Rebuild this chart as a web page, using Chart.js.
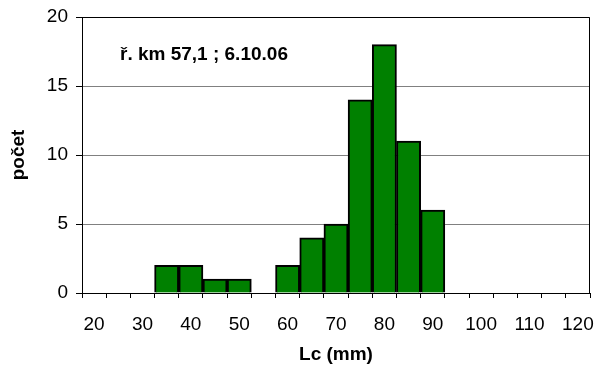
<!DOCTYPE html>
<html>
<head>
<meta charset="utf-8">
<script src="https://cdn.jsdelivr.net/npm/chart.js@4/dist/chart.umd.min.js"></script>
<style>
html,body{margin:0;padding:0;background:#fff;}
#wrap{width:597px;height:374px;position:relative;}
</style>
</head>
<body>
<div id="wrap"><canvas id="c" width="597" height="374"></canvas></div>
<script>
const categories = [20,25,30,35,40,45,50,55,60,65,70,75,80,85,90,95,100,105,110,115,120];
const counts =     [0, 0, 0, 2, 2, 1, 1, 0, 2, 4, 5, 14,18,11,6, 0, 0,  0,  0,  0,  0];
const yTicks = [0,5,10,15,20];
const annotationText = 'ř. km 57,1 ; 6.10.06';
const xTitle = 'Lc (mm)';
const yTitle = 'počet';

const FONT = "'Liberation Sans', Arial, sans-serif";

const annotationPlugin = {
  id: 'annot',
  afterDraw(chart) {
    const ctx = chart.ctx;
    const a = chart.chartArea;
    ctx.save();
    ctx.font = "bold 19px " + FONT;
    ctx.fillStyle = '#000';
    ctx.textBaseline = 'middle';
    ctx.textAlign = 'left';
    ctx.fillText(annotationText, a.left + 38, a.top + 38);
    ctx.strokeStyle = '#000';
    ctx.lineWidth = 1;
    ctx.beginPath();
    ctx.moveTo(a.left, a.top + 0.5);
    ctx.lineTo(a.right - 0.5, a.top + 0.5);
    ctx.lineTo(a.right - 0.5, a.bottom);
    ctx.stroke();
    ctx.restore();
  }
};

new Chart(document.getElementById('c'), {
  type: 'bar',
  data: {
    labels: categories,
    datasets: [{
      data: counts,
      backgroundColor: '#008000',
      borderColor: '#000',
      borderWidth: 2,
      borderSkipped: 'bottom',
      barPercentage: 1,
      categoryPercentage: 1
    }]
  },
  options: {
    responsive: false,
    animation: false,
    devicePixelRatio: 1,
    layout: { padding: { top: 17, right: 7, left: 7, bottom: 8 } },
    plugins: { legend: { display: false }, tooltip: { enabled: false } },
    scales: {
      x: {
        type: 'category',
        offset: true,
        afterFit(s) { s.height = 73; s.paddingLeft = 0; s.paddingRight = 0; },
        grid: { offset: true, drawOnChartArea: false, drawTicks: true, tickLength: 5, color: '#000', tickColor: '#000' },
        border: { color: '#000', width: 1 },
        ticks: {
          autoSkip: false,
          maxRotation: 0,
          padding: 15,
          color: '#000',
          font: { family: FONT, size: 19 },
          callback(v, i) { return i % 2 === 0 ? String(categories[i]) : ''; }
        },
        title: { display: true, text: xTitle, color: '#000', font: { family: FONT, size: 19, weight: 'bold' }, padding: 0 }
      },
      y: {
        min: 0, max: 20,
        afterFit(s) { s.width = 75; s.paddingTop = 0; s.paddingBottom = 0; },
        afterBuildTicks(s) { s.ticks = yTicks.map(v => ({ value: v })); },
        grid: { color: '#808080', tickColor: '#000', tickLength: 6, drawTicks: true },
        border: { color: '#000', width: 1 },
        ticks: { padding: 8, color: '#000', font: { family: FONT, size: 19 } },
        title: { display: true, text: yTitle, color: '#000', font: { family: FONT, size: 19, weight: 'bold' }, padding: 0 }
      }
    }
  },
  plugins: [annotationPlugin]
});
</script>
</body>
</html>
